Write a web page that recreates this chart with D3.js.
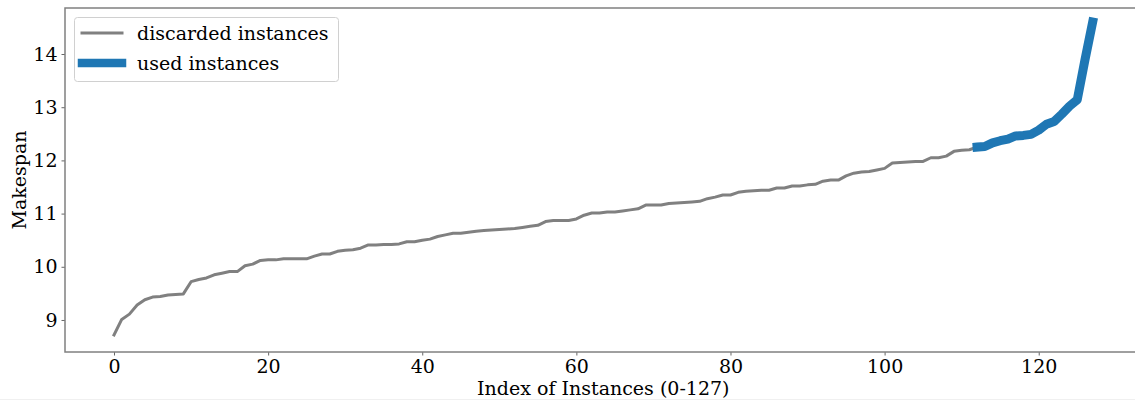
<!DOCTYPE html>
<html>
<head>
<meta charset="utf-8">
<script src="https://cdn.jsdelivr.net/npm/d3@7"></script>
<style>
  html, body { margin: 0; padding: 0; background: #fff; }
  svg { display: block; }
  text { font-family: "DejaVu Serif", "Liberation Serif", serif; fill: #000; }
</style>
</head>
<body>
<svg id="chart" width="1135" height="401"></svg>
<script>
// Makespan of each instance, sorted ascending (index 0-127)
const makespan = [
  8.72, 9.01, 9.11, 9.28, 9.38, 9.43, 9.44, 9.47, 9.48, 9.49,
  9.72, 9.76, 9.79, 9.85, 9.88, 9.91, 9.91, 10.02, 10.05, 10.12,
  10.13, 10.13, 10.15, 10.15, 10.15, 10.15, 10.20, 10.24, 10.24, 10.29,
  10.31, 10.32, 10.35, 10.41, 10.41, 10.42, 10.42, 10.43, 10.47, 10.47,
  10.50, 10.52, 10.57, 10.60, 10.63, 10.63, 10.65, 10.67, 10.68, 10.69,
  10.70, 10.71, 10.72, 10.74, 10.76, 10.78, 10.85, 10.87, 10.87, 10.87,
  10.90, 10.97, 11.01, 11.01, 11.03, 11.03, 11.05, 11.07, 11.09, 11.16,
  11.16, 11.16, 11.19, 11.20, 11.21, 11.22, 11.23, 11.28, 11.31, 11.35,
  11.35, 11.40, 11.42, 11.43, 11.44, 11.44, 11.48, 11.48, 11.52, 11.52,
  11.54, 11.55, 11.61, 11.63, 11.63, 11.71, 11.76, 11.78, 11.79, 11.82,
  11.85, 11.95, 11.96, 11.97, 11.98, 11.98, 12.05, 12.05, 12.08, 12.17,
  12.19, 12.20, 12.25, 12.26, 12.33, 12.37, 12.40, 12.46, 12.47, 12.49,
  12.57, 12.68, 12.73, 12.87, 13.02, 13.14, 13.89, 14.60
];
// First index of the instances that are kept
const usedStart = 112;
const seriesLabels = ["discarded instances", "used instances"];
const xTicks = [0, 20, 40, 60, 80, 100, 120];
const yTicks = [9, 10, 11, 12, 13, 14];
const xLabel = "Index of Instances (0-127)";
const yLabel = "Makespan";

const svg = d3.select("#chart");
const plot = { left: 65, top: 8, right: 1141.6, bottom: 352 };

const x = d3.scaleLinear().domain([-6.36, 133.35]).range([plot.left, plot.right]);
const y = d3.scaleLinear().domain([8.398, 14.865]).range([plot.bottom, plot.top]);

const points = makespan.map((v, i) => ({ i, v }));
const discarded = points.slice(0, usedStart + 1);
const used = points.slice(usedStart);

const line = d3.line().x(d => x(d.i)).y(d => y(d.v));

svg.append("path")
  .datum(discarded)
  .attr("d", line)
  .attr("fill", "none")
  .attr("stroke", "#808080")
  .attr("stroke-width", 3)
  .attr("stroke-linejoin", "round")
  .attr("stroke-linecap", "square");

svg.append("path")
  .datum(used)
  .attr("d", line)
  .attr("fill", "none")
  .attr("stroke", "#1f77b4")
  .attr("stroke-width", 9)
  .attr("stroke-linejoin", "round")
  .attr("stroke-linecap", "square");

// Axes
const xAxis = svg.append("g")
  .attr("transform", `translate(0,${plot.bottom})`)
  .call(d3.axisBottom(x).tickValues(xTicks).tickSize(3.5).tickPadding(4).tickFormat(d3.format("d")));
const yAxis = svg.append("g")
  .attr("transform", `translate(${plot.left},0)`)
  .call(d3.axisLeft(y).tickValues(yTicks).tickSize(3.5).tickPadding(4).tickFormat(d3.format("d")));

[xAxis, yAxis].forEach(g => {
  g.select(".domain").remove();
  g.selectAll(".tick line").attr("stroke", "#555").attr("stroke-width", 0.9);
  g.selectAll(".tick text")
    .style("font-family", "'DejaVu Serif', serif")
    .style("font-size", "19px")
    .attr("fill", "#000");
});

// Frame
svg.append("rect")
  .attr("x", plot.left)
  .attr("y", plot.top)
  .attr("width", plot.right - plot.left)
  .attr("height", plot.bottom - plot.top)
  .attr("fill", "none")
  .attr("stroke", "#808080")
  .attr("stroke-width", 1.5);

// Axis titles
svg.append("text")
  .attr("x", (plot.left + plot.right) / 2)
  .attr("y", 395)
  .attr("text-anchor", "middle")
  .style("font-size", "19px")
  .text(xLabel);

svg.append("text")
  .attr("transform", `translate(26,${(plot.top + plot.bottom) / 2}) rotate(-90)`)
  .attr("text-anchor", "middle")
  .style("font-size", "19px")
  .text(yLabel);

// Legend
const legend = svg.append("g");
legend.append("rect")
  .attr("x", 74.5).attr("y", 17.5)
  .attr("width", 264).attr("height", 64)
  .attr("rx", 3)
  .attr("fill", "#fff").attr("fill-opacity", 0.8)
  .attr("stroke", "#d0d0d0").attr("stroke-width", 1);

const legendItems = [
  { label: seriesLabels[0], color: "#808080", width: 3, yPos: 33 },
  { label: seriesLabels[1], color: "#1f77b4", width: 8.5, yPos: 63 }
];
legendItems.forEach(it => {
  legend.append("line")
    .attr("x1", 82).attr("x2", 122)
    .attr("y1", it.yPos).attr("y2", it.yPos)
    .attr("stroke", it.color)
    .attr("stroke-width", it.width)
    .attr("stroke-linecap", "square");
  legend.append("text")
    .attr("x", 137)
    .attr("y", it.yPos + 7)
    .style("font-size", "19px")
    .text(it.label);
});

// Faint rule along the bottom edge
svg.append("line")
  .attr("x1", 0).attr("x2", 1135)
  .attr("y1", 399.5).attr("y2", 399.5)
  .attr("stroke", "#f0f0f0").attr("stroke-width", 1);
</script>
</body>
</html>
